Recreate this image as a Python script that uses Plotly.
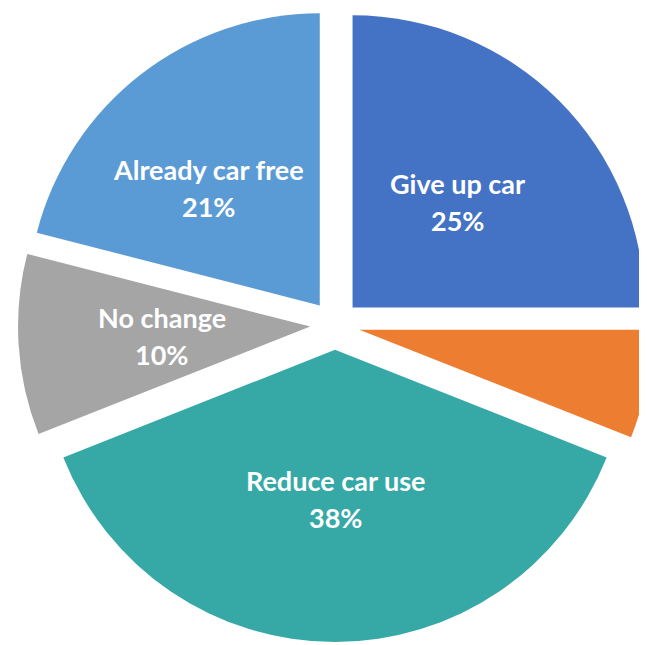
import math
import plotly.graph_objects as go

labels = ["Give up car", "Other", "Reduce car use", "No change", "Already car free"]
values = [25, 6, 38, 10, 21]
colors = ["#4472C4", "#ED7D31", "#36A9A7", "#A5A5A5", "#5B9BD5"]
show_text = [True, False, True, True, True]

W, H = 654, 634
PULL = 0.085
LABEL_FRAC = 0.51
FONT_SIZE = 27
FONT = dict(family="Lato", size=FONT_SIZE, color="white")
EDGE_PAD = 16  # px kept between a label and the vertical 12 o'clock cut

fig = go.Figure(go.Pie(
    labels=labels,
    values=values,
    sort=False,
    direction="clockwise",
    rotation=0,
    pull=[PULL] * len(values),
    marker=dict(colors=colors, line=dict(width=0)),
    textinfo="none",
    showlegend=False,
    hoverinfo="label+percent",
))

# Excel-style inside labels at the middle of each slice's radius,
# nudged to stay inside the slice when they would cross the 12 o'clock cut
total = sum(values)
r_px = (min(W, H) / 2) / (1 + PULL)
pull_px = PULL * r_px
cum = 0
for lab, v, s in zip(labels, values, show_text):
    start = cum / total * 2 * math.pi
    end = (cum + v) / total * 2 * math.pi
    mid = (start + end) / 2
    cum += v
    if not s:
        continue
    dist = (PULL + LABEL_FRAC) * r_px
    dx = dist * math.sin(mid)
    dy = dist * math.cos(mid)
    half_w = 0.44 * FONT_SIZE * len(lab) / 2
    slice_dx = pull_px * math.sin(mid)
    if abs(end - 2 * math.pi) < 1e-9:  # right side bounded by the vertical cut
        dx = min(dx, slice_dx - EDGE_PAD - half_w)
    if abs(start) < 1e-9:  # left side bounded by the vertical cut
        dx = max(dx, slice_dx + EDGE_PAD + half_w)
    x = 0.5 + dx / W
    y = 0.5 + dy / H
    pct = f"{round(v / total * 100)}%"
    for txt, shift in ((lab, 18.5), (pct, -18.5)):
        fig.add_annotation(
            x=x, y=y, xref="paper", yref="paper",
            text=f"<b>{txt}</b>", showarrow=False,
            yshift=shift, font=FONT,
            xanchor="center", yanchor="middle",
        )

fig.update_layout(
    width=W,
    height=H,
    margin=dict(l=0, r=0, t=0, b=0),
    paper_bgcolor="white",
    plot_bgcolor="white",
)

fig.write_html("out.html")
